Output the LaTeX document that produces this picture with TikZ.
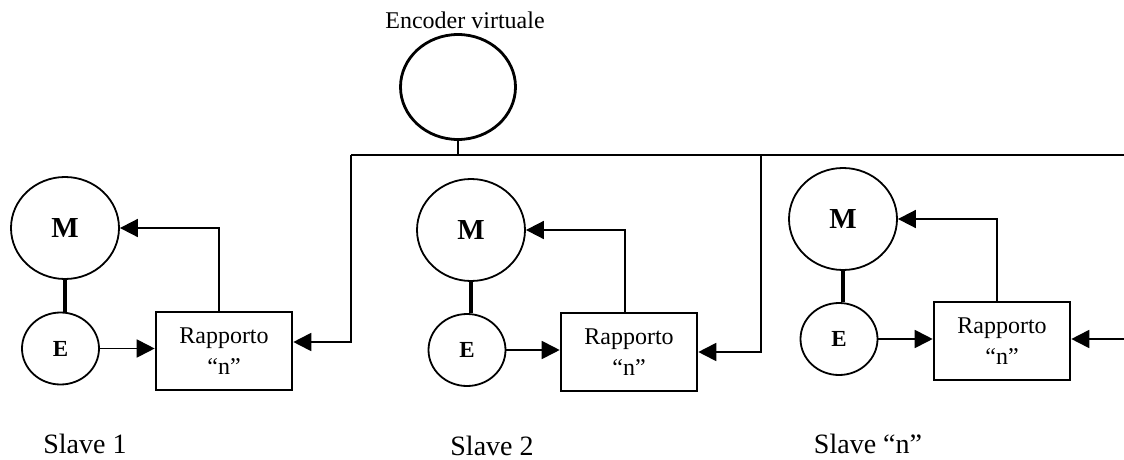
\documentclass[tikz,border=0pt]{standalone}
\usepackage{fontspec}
\setmainfont{Liberation Serif}
\usetikzlibrary{shapes.geometric,arrows.meta}

\tikzset{
  wire/.style={line width=1.8pt},
  arr/.style={wire,-{Triangle[length=18pt,width=18pt]}},
  motor/.style={ellipse,draw,line width=1.8pt,inner sep=0pt,
    minimum width=108pt,minimum height=102pt,
    font=\fontsize{29}{30}\selectfont\bfseries},
  enc/.style={ellipse,draw,line width=1.8pt,inner sep=0pt,
    minimum width=77pt,minimum height=72pt,
    font=\fontsize{23}{24}\selectfont\bfseries},
  ratio/.style={rectangle,draw,line width=2.6pt,inner sep=0pt,
    minimum width=136pt,minimum height=78pt,align=center,
    font=\fontsize{24}{31}\selectfont},
  shaft/.style={line width=4.5pt},
  slavelabel/.style={font=\fontsize{28}{30}\selectfont,inner sep=0pt,anchor=base},
}

\begin{document}
\begin{tikzpicture}[x=1pt,y=-1pt]
  \useasboundingbox (0,0) rectangle (1124,460);

  % virtual master encoder and the shared bus
  \node[font=\fontsize{24}{26}\selectfont,anchor=base,inner sep=0pt] (enclabel) at (465,29) {Encoder virtuale};
  \node[ellipse,draw,line width=2.8pt,minimum width=115pt,minimum height=105pt,inner sep=0pt] (venc) at (458,87) {};
  \coordinate (busL) at (351,155);
  \coordinate (busE) at (458,155);
  \coordinate (bus2) at (761,155);
  \coordinate (busR) at (1124.4,155);
  \draw[wire] (venc.south) -- (busE);
  \draw[wire] (busL) -- (1126,155);

  % Slave 1
  \node[motor] (m1) at (65,228) {M};
  \node[enc] (e1) at (60.5,348.5) {E};
  \node[ratio] (r1) at (224,351) {Rapporto\\“n”};
  \draw[shaft] (m1.south) -- (m1.south |- e1.north);
  \draw[arr] (e1.east) -- (e1.east -| r1.west);
  \draw[arr] ([xshift=-5pt]r1.north) |- (m1.east);
  \draw[arr] (busL) |- ([yshift=9pt]r1.east);
  \node[slavelabel] (s1) at (85,453) {Slave 1};

  % Slave 2
  \node[motor] (m2) at (471,230) {M};
  \node[enc] (e2) at (467,350) {E};
  \node[ratio] (r2) at (629,352) {Rapporto\\“n”};
  \draw[shaft] (m2.south) -- (m2.south |- e2.north);
  \draw[arr] (e2.east) -- (e2.east -| r2.west);
  \draw[arr] ([xshift=-4pt]r2.north) |- (m2.east);
  \draw[arr] (bus2) |- (r2.east);
  \node[slavelabel] (s2) at (492,455) {Slave 2};

  % Slave "n"
  \node[motor] (mn) at (843,219) {M};
  \node[enc] (en) at (839,339) {E};
  \node[ratio] (rn) at (1002,341) {Rapporto\\“n”};
  \draw[shaft] (mn.south) -- (mn.south |- en.north);
  \draw[arr] (en.east) -- (en.east -| rn.west);
  \draw[arr] ([xshift=-5pt]rn.north) |- (mn.east);
  \draw[arr] (busR) |- ([yshift=2pt]rn.east);
  \node[slavelabel] (sn) at (868,453) {Slave “n”};
\end{tikzpicture}
\end{document}
